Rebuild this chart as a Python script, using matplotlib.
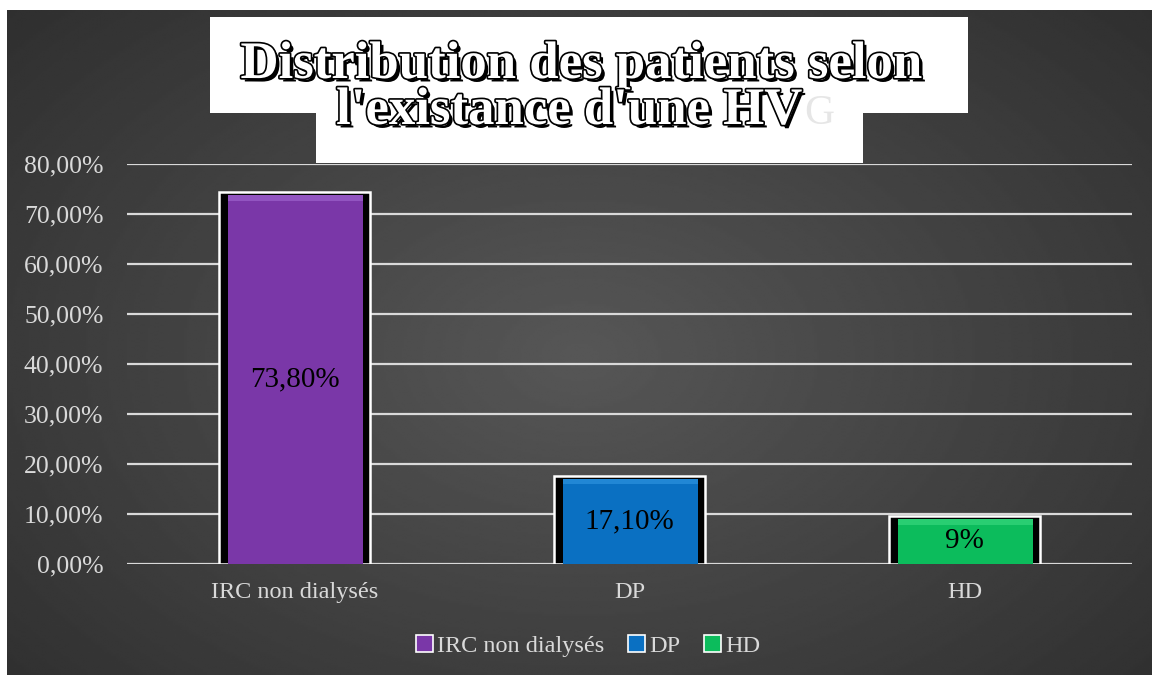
import numpy as np
import matplotlib.pyplot as plt
import matplotlib.patheffects as pe
from matplotlib.patches import Patch, Rectangle
from matplotlib.ticker import FuncFormatter

categories = ["IRC non dialysés", "DP", "HD"]
values = [73.8, 17.1, 9.0]
value_labels = ["73,80%", "17,10%", "9%"]
colors = ["#7a37a8", "#0a70c2", "#0cbc5c"]
top_colors = ["#b17ae0", "#3ea4ee", "#4ee68e"]
title_lines = ["Distribution des patients selon", "l'existance d'une HV"]

W, H = 1152, 675
FONT = "Liberation Serif"
TXT = "#d9d9d9"

fig = plt.figure(figsize=(W / 100, H / 100), dpi=100)
fig.patch.set_facecolor("white")

# dark radial background
bg = fig.add_axes([7 / W, 0, 1 - 7 / W, 1 - 10 / H], zorder=0)
yy, xx = np.mgrid[0:1:300j, 0:1:500j]
r = np.sqrt(((xx - 0.5) / 0.75) ** 2 + ((yy - 0.52) / 0.85) ** 2)
shade = np.clip(0.34 - 0.17 * r, 0.16, 0.34)
bg.imshow(shade, cmap="gray", vmin=0, vmax=1, aspect="auto",
          extent=[0, 1, 0, 1], interpolation="bilinear")
bg.axis("off")

ax = fig.add_axes([127 / W, 1 - 564 / H, (1132 - 127) / W, 400 / H], zorder=1)
ax.patch.set_alpha(0)
x = np.arange(len(categories))

ax.set_xlim(-0.5, len(categories) - 0.5)
ax.set_ylim(0, 80)
ax.set_yticks(np.arange(0, 81, 10))
ax.yaxis.set_major_formatter(FuncFormatter(lambda v, p: f"{v:.2f}%".replace(".", ",")))
ax.grid(axis="y", color="#d9d9d9", linewidth=1.6, zorder=0)
ax.set_axisbelow(True)
for s in ax.spines.values():
    s.set_visible(False)
ax.tick_params(axis="y", length=0, labelsize=18.5, pad=17)
ax.tick_params(axis="x", length=0, labelsize=17.5, pad=13)
ax.set_xticks(x)
ax.set_xticklabels(categories)
for lab in ax.get_xticklabels() + ax.get_yticklabels():
    lab.set_fontfamily(FONT)
    lab.set_color(TXT)

# white frame + black shadow, then coloured bar with bevel
ax.bar(x, [v + 0.6 for v in values], width=0.45, color="black",
       edgecolor="white", linewidth=1.8, zorder=2)
ax.bar(x + 0.003, values, width=0.402, color=colors, zorder=3)
ax.bar(x + 0.003, [1.1] * len(values), bottom=[v - 1.1 for v in values],
       width=0.402, color=top_colors, alpha=0.45, zorder=4)

for xi, v, lab in zip(x, values, value_labels):
    ax.text(xi, v / 2, lab, ha="center", va="center", fontsize=21,
            family=FONT, color="black", zorder=5)

handles = [Patch(facecolor=c, edgecolor="white", linewidth=1.2) for c in colors]
leg = fig.legend(handles, categories, loc="center", bbox_to_anchor=(588 / W, 1 - 646 / H),
                 ncol=3, frameon=False, handlelength=0.7, handleheight=0.7,
                 handletextpad=0.15, columnspacing=1.0,
                 prop={"family": FONT, "size": 17.5})
for t in leg.get_texts():
    t.set_color(TXT)

# title box
tb = fig.add_axes([0, 0, 1, 1], zorder=3)
tb.set_xlim(0, W)
tb.set_ylim(H, 0)
tb.axis("off")
tb.add_patch(Rectangle((210, 17), 758, 96, color="white", lw=0, zorder=1))
tb.add_patch(Rectangle((316, 112), 547, 51, color="white", lw=0, zorder=1))

effects = [pe.withSimplePatchShadow(offset=(2.5, -2.5), shadow_rgbFace="black", alpha=1),
           pe.withStroke(linewidth=2.4, foreground="black")]
tb.text(581, 78, title_lines[0], ha="center", va="baseline", fontsize=38,
        family=FONT, weight="bold", color="white", path_effects=effects, zorder=3)
line2 = tb.text(569, 124, title_lines[1], ha="center", va="baseline", fontsize=38,
                family=FONT, weight="bold", color="white", path_effects=effects, zorder=3)

# faint leftover "G" just after the second line
fig.canvas.draw()
bb = line2.get_window_extent()
gx = bb.x1 / fig.dpi * 100 + 2
tb.text(gx, 124, "G", ha="left", va="baseline", fontsize=30,
        family=FONT, color="#e6e6e6", zorder=2)

fig.savefig("out.png", dpi=100)
